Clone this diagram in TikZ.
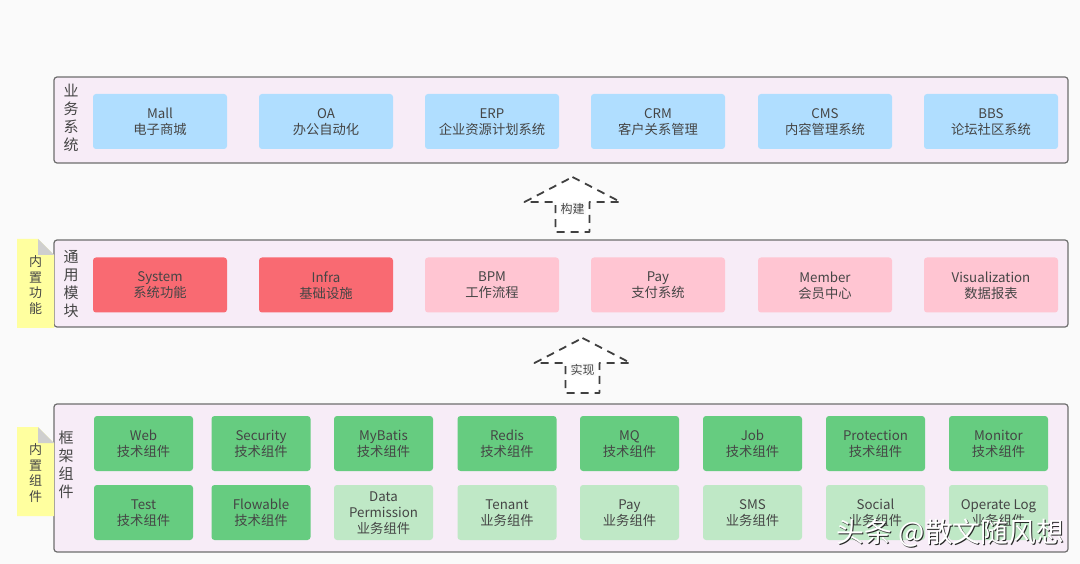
\documentclass[tikz,border=0pt]{standalone}
\usepackage{fontspec}
\setmainfont{Noto Sans CJK SC}
\usepackage{xcolor}
\definecolor{pagebg}{HTML}{FAFAFA}
\definecolor{layerbg}{HTML}{F7ECF7}
\definecolor{layerline}{HTML}{6E6E6E}
\definecolor{textgray}{HTML}{454545}
\definecolor{bluebox}{HTML}{B0DEFF}
\definecolor{redbox}{HTML}{F96A72}
\definecolor{pinkbox}{HTML}{FFC5D2}
\definecolor{greenbox}{HTML}{66CC80}
\definecolor{lightgreen}{HTML}{BFE8C6}
\definecolor{notebg}{HTML}{FFFF9F}
\definecolor{notefold}{HTML}{CFCFCF}
\tikzset{
	layerbox/.style={draw=layerline,line width=1.2pt,fill=layerbg,rounded corners=3pt},
	layertext/.style={text=textgray,font=\fontsize{15}{18}\selectfont,align=center,inner sep=0pt},
	modbox/.style={rounded corners=3pt,text=textgray,align=center,inner sep=0pt,
		font=\fontsize{13.3}{16}\selectfont,minimum height=55pt,text depth=0pt},
	widebox/.style={modbox,minimum width=134pt},
	compbox/.style={modbox,minimum width=99pt},
	notetext/.style={text=textgray,font=\fontsize{13}{15.7}\selectfont,align=center,inner sep=0pt},
	dasharrow/.style={draw=black!75,line width=1.8pt,fill=white,line join=round,dash pattern=on 8pt off 6pt},
	arrowtext/.style={fill=pagebg,text=textgray,font=\fontsize{12}{14}\selectfont,inner sep=1pt},
}
\begin{document}
\begin{tikzpicture}[x=1pt,y=-1pt]
	\fill[pagebg] (0,0) rectangle (1080,564);
	\useasboundingbox (0,0) rectangle (1080,564);

	% layers
	\draw[layerbox] (54,77) rectangle (1068,163);
	\draw[layerbox] (54,240) rectangle (1068,327);
	\draw[layerbox] (54,404) rectangle (1068,552);
	\node[layertext] (bizlabel) at (71,118) {业\\务\\系\\统};
	\node[layertext] (commonlabel) at (71,284) {通\\用\\模\\块};
	\node[layertext] (framelabel) at (66,465) {框\\架\\组\\件};

	% yellow notes
	\foreach \ny/\nname/\ntext in {239/notea/内\\置\\功\\能,427/noteb/内\\置\\组\\件}{
		\fill[notebg] (17,\ny) -- (38,\ny) -- (54,\ny+16) -- (54,\ny+89) -- (17,\ny+89) -- cycle;
		\fill[notefold] (38,\ny) -- (54,\ny+16) -- (38,\ny+16) -- cycle;
		\node[notetext] (\nname) at (35.5,\ny+46) {\ntext};
	}

	% business systems
	\foreach \bx/\bname/\btext in {160/mall/Mall\\电子商城,326/oa/OA\\办公自动化,492/erp/ERP\\企业资源计划系统,
		658/crm/CRM\\客户关系管理,825/cms/CMS\\内容管理系统,991/bbs/BBS\\论坛社区系统}{
		\node[widebox,fill=bluebox] (\bname) at (\bx,121.5) {\btext};
	}

	% common modules
	\foreach \mx/\mname/\mfill/\mtext in {160/system/redbox/System\\系统功能,326/infra/redbox/Infra\\基础设施,
		492/bpm/pinkbox/BPM\\工作流程,658/pay/pinkbox/Pay\\支付系统,
		825/member/pinkbox/Member\\会员中心,991/visual/pinkbox/Visualization\\数据报表}{
		\node[widebox,fill=\mfill] (\mname) at (\mx,285) {\mtext};
	}

	% framework components
	\foreach \cx/\cname/\ctext in {143.5/web/Web,261/security/Security,383.5/mybatis/MyBatis,507/redis/Redis,
		629.5/mq/MQ,752.5/job/Job,875.5/protection/Protection,998.5/monitor/Monitor}{
		\node[compbox,fill=greenbox] (\cname) at (\cx,443.5) {\ctext\\技术组件};
	}
	\foreach \cx/\cname/\cfill/\ctext in {143.5/test/greenbox/Test\\技术组件,261/flowable/greenbox/Flowable\\技术组件,
		383.5/datap/lightgreen/Data\\Permission\\业务组件,507/tenant/lightgreen/Tenant\\业务组件,
		629.5/paycomp/lightgreen/Pay\\业务组件,752.5/sms/lightgreen/SMS\\业务组件,
		875.5/social/lightgreen/Social\\业务组件,998.5/oplog/lightgreen/Operate Log\\业务组件}{
		\node[compbox,fill=\cfill] (\cname) at (\cx,512.5) {\ctext};
	}

	% dashed arrows
	\foreach \ax/\ay/\aname/\atext/\alen in {572.5/177/build/构建/55,582.5/338/impl/实现/55}{
		\draw[dasharrow] (\ax,\ay) -- (\ax+48,\ay+25) -- (\ax+17,\ay+25) -- (\ax+17,\ay+\alen)
			-- (\ax-17,\ay+\alen) -- (\ax-17,\ay+25) -- (\ax-48,\ay+25) -- cycle;
		\node[arrowtext] (\aname) at (\ax,\ay+31.5) {\atext};
	}

	% watermark
	\node[text=black!85,font=\fontsize{27.8}{30}\selectfont,inner sep=0pt] (markshadow) at (951.5,534) {头条 @散文随风想};
	\node[text=white,font=\fontsize{27.8}{30}\selectfont,inner sep=0pt] (mark) at (950.5,533) {头条 @散文随风想};
\end{tikzpicture}
\end{document}
